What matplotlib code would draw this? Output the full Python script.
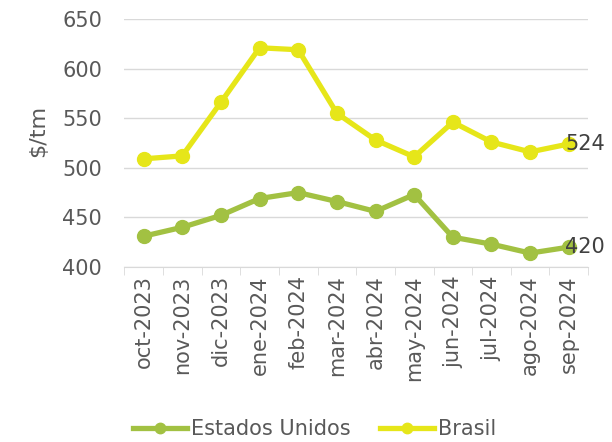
import numpy as np
import matplotlib.pyplot as plt

months = ["oct-2023", "nov-2023", "dic-2023", "ene-2024", "feb-2024", "mar-2024",
          "abr-2024", "may-2024", "jun-2024", "jul-2024", "ago-2024", "sep-2024"]
brasil = [509, 512, 566, 621, 619, 555, 528, 511, 546, 526, 516, 524]
eeuu = [431, 440, 452, 469, 475, 466, 456, 473, 430, 423, 414, 420]

txt = "#595959"
c_us = "#A2C142"
c_br = "#E6E619"

fig = plt.figure(figsize=(6.12, 4.42), dpi=100)
ax = fig.add_axes([0.203, 0.396, 0.758, 0.561])

x = np.arange(len(months))
ax.plot(x, eeuu, color=c_us, lw=3.8, marker="o", ms=10, label="Estados Unidos")
ax.plot(x, brasil, color=c_br, lw=3.8, marker="o", ms=10, label="Brasil")

# etiquetas del ultimo dato
ax.text(x[-1] - 0.1, brasil[-1], str(brasil[-1]), fontsize=15, color="#404040", va="center", ha="left")
ax.text(x[-1] - 0.1, eeuu[-1], str(eeuu[-1]), fontsize=15, color="#404040", va="center", ha="left")

ax.set_xlim(-0.5, len(months) - 0.5)
ax.set_ylim(400, 650)
ax.set_yticks(range(400, 651, 50))
ax.grid(axis="y", color="#D9D9D9", lw=1)
ax.set_axisbelow(True)
for s in ["top", "right", "left"]:
    ax.spines[s].set_visible(False)
ax.spines["bottom"].set_color("#D9D9D9")
ax.tick_params(axis="y", length=0, labelsize=15, labelcolor=txt, pad=16)
ax.set_xticks(x)
ax.set_xticklabels(months, rotation=90, fontsize=15, color=txt)
ax.tick_params(axis="x", length=0, pad=6)
ax.set_xticks(np.arange(-0.5, len(months), 1), minor=True)
ax.tick_params(axis="x", which="minor", length=6, color="#D9D9D9")
ax.set_ylabel("$/tm", fontsize=16, color=txt)
ax.yaxis.set_label_coords(-0.165, 0.55)

leg = ax.legend(loc="lower center", bbox_to_anchor=(0.41, -0.77), ncol=2, frameon=False,
                fontsize=15, labelcolor=txt, handlelength=2.6, columnspacing=1.4,
                handletextpad=0.2, markerscale=0.75)

plt.savefig("out.png", dpi=100)
